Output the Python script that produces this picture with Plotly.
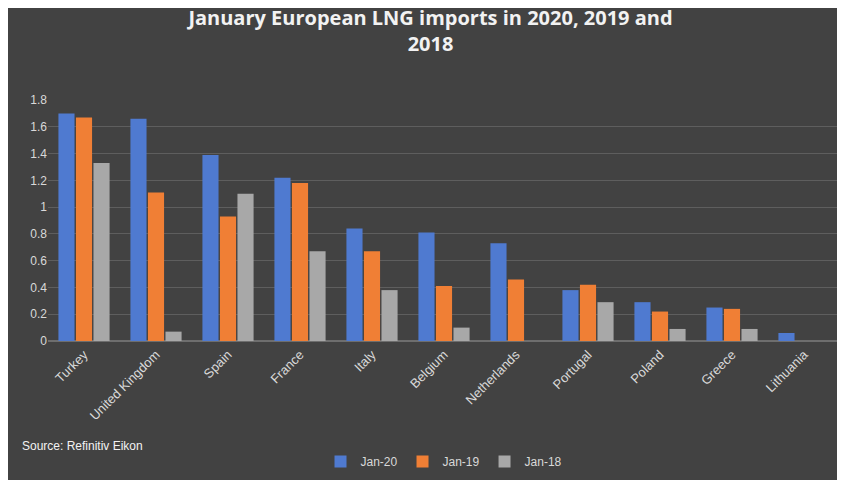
import plotly.graph_objects as go

countries = ["Turkey", "United Kingdom", "Spain", "France", "Italy", "Belgium",
             "Netherlands", "Portugal", "Poland", "Greece", "Lithuania"]
jan20 = [1.70, 1.66, 1.39, 1.22, 0.84, 0.81, 0.73, 0.38, 0.29, 0.25, 0.06]
jan19 = [1.67, 1.11, 0.93, 1.18, 0.67, 0.41, 0.46, 0.42, 0.22, 0.24, 0]
jan18 = [1.33, 0.07, 1.10, 0.67, 0.38, 0.10, 0, 0.29, 0.09, 0.09, 0]
tick_vals = [0, 0.2, 0.4, 0.6, 0.8, 1, 1.2, 1.4, 1.6, 1.8]
tick_text = ["0", "0.2", "0.4", "0.6", "0.8", "1", "1.2", "1.4", "1.6", "1.8"]

fig = go.Figure()
for name, vals, col in [("Jan-20", jan20, "#4f7ad0"),
                        ("Jan-19", jan19, "#f07f35"),
                        ("Jan-18", jan18, "#a8a8a8")]:
    fig.add_trace(go.Bar(x=countries, y=vals, name=name, marker_color=col,
                         marker_line_width=0))

fig.update_layout(
    width=845, height=480,
    paper_bgcolor="#424242", plot_bgcolor="#424242",
    font=dict(family="Liberation Sans, Arial", color="#d9d9d9", size=12),
    title=dict(text="<b>January European LNG imports in 2020, 2019 and<br>2018</b>",
               x=0.5, y=0.965, xanchor="center", yanchor="top",
               font=dict(size=20, color="#f2f2f2", family="Open Sans, Liberation Sans")),
    margin=dict(l=40, r=13, t=92, b=140),
    bargap=0.27, bargroupgap=0.08,
    legend=dict(orientation="h", x=0.5, xanchor="center", y=-0.44, yanchor="top",
                font=dict(size=12, color="#d9d9d9"), itemwidth=30),
    showlegend=True,
)
fig.update_yaxes(range=[0, 1.8], tickvals=tick_vals, ticktext=tick_text,
                 gridcolor="#5e5e5e", zeroline=True, zerolinecolor="#6e6e6e",
                 tickfont=dict(size=12))
fig.update_xaxes(tickangle=-45, tickfont=dict(size=13), showline=True,
                 linecolor="#6e6e6e")
fig.add_annotation(text="Source: Refinitiv Eikon", xref="paper", yref="paper",
                   x=-0.035, y=-0.40, xanchor="left", yanchor="top",
                   showarrow=False, font=dict(size=12, color="#f2f2f2"))
fig.write_html("out.html")
